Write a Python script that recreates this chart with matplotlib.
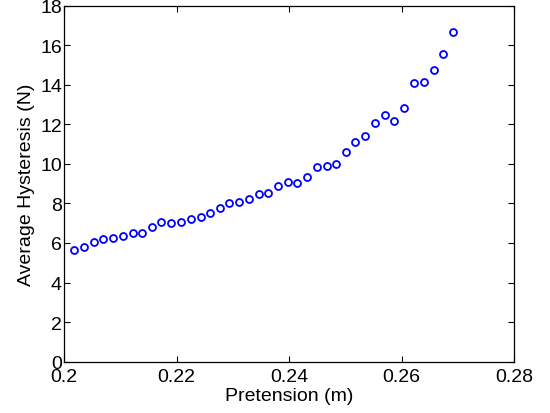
import matplotlib
matplotlib.use("Agg")
import matplotlib.pyplot as plt

plt.rcParams['font.family'] = ['Liberation Sans', 'DejaVu Sans']

# Pretension (m) and measured average hysteresis (N)
pretension = [
    0.2018, 0.2035, 0.2053, 0.2070, 0.2087, 0.2104, 0.2122, 0.2139,
    0.2156, 0.2173, 0.2190, 0.2208, 0.2225, 0.2243, 0.2260, 0.2277,
    0.2294, 0.2311, 0.2328, 0.2346, 0.2363, 0.2380, 0.2398, 0.2415,
    0.2432, 0.2450, 0.2467, 0.2484, 0.2501, 0.2518, 0.2535, 0.2552,
    0.2570, 0.2587, 0.2604, 0.2622, 0.2640, 0.2657, 0.2674, 0.2691,
]
hysteresis = [
    5.66, 5.80, 6.05, 6.22, 6.25, 6.37, 6.51, 6.52,
    6.81, 7.08, 7.01, 7.08, 7.21, 7.33, 7.52, 7.75,
    8.04, 8.06, 8.21, 8.48, 8.51, 8.90, 9.10, 9.05,
    9.35, 9.86, 9.88, 9.99, 10.60, 11.12, 11.39, 12.07,
    12.47, 12.17, 12.84, 14.11, 14.16, 14.76, 15.57, 16.67,
]

x_ticks = [0.2, 0.22, 0.24, 0.26, 0.28]
x_tick_labels = ["0.2", "0.22", "0.24", "0.26", "0.28"]
y_ticks = [0, 2, 4, 6, 8, 10, 12, 14, 16, 18]

fig = plt.figure(figsize=(5.5, 4.14), dpi=100)
ax = fig.add_axes([0.1164, 0.124, 0.8182, 0.86])

ax.plot(pretension, hysteresis, linestyle='none', marker='o',
        markersize=5, markerfacecolor='none', markeredgecolor='#0000ff',
        markeredgewidth=1.3)

ax.set_xlim(0.2, 0.28)
ax.set_ylim(0, 18)
ax.set_xticks(x_ticks)
ax.set_xticklabels(x_tick_labels)
ax.set_yticks(y_ticks)
ax.tick_params(axis='both', direction='in', top=True, right=True, length=4,
               width=0.8, labelsize=14)
ax.tick_params(axis='x', pad=4.5)
ax.tick_params(axis='y', pad=1.5)
for s in ax.spines.values():
    s.set_linewidth(0.9)

ax.set_xlabel("Pretension (m)", fontsize=14, labelpad=1.5)
ax.set_ylabel("Average Hysteresis (N)", fontsize=14, labelpad=4)

fig.savefig("out.png", dpi=100)
